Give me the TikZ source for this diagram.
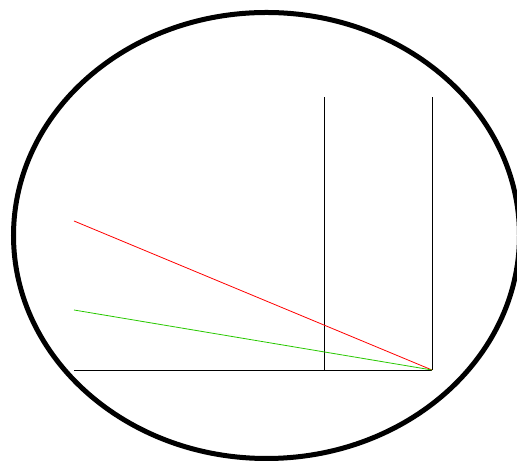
\documentclass[tikz,border=0pt]{standalone}
\begin{document}
\begin{tikzpicture}[x=1pt,y=1pt,
  thin line/.style={line width=0.8pt},
  outline/.style={line width=5pt}]
\definecolor{lgreen}{RGB}{40,200,0}
\useasboundingbox (0,0) rectangle (517,462);
\coordinate (O) at (432,92);
\coordinate (L) at (74,92);
\coordinate (M) at (324,92);
\coordinate (Mt) at (324,365);
\coordinate (Ot) at (432,365);
\coordinate (R) at (74,241);
\coordinate (G) at (74,152);
\draw[outline] (266.5,226.5) ellipse [x radius=253, y radius=223];
\draw[thin line] (L) -- (O);
\draw[thin line] (M) -- (Mt);
\draw[thin line] (O) -- (Ot);
\draw[thin line, red] (R) -- (O);
\draw[thin line, lgreen] (G) -- (O);
\end{tikzpicture}
\end{document}
